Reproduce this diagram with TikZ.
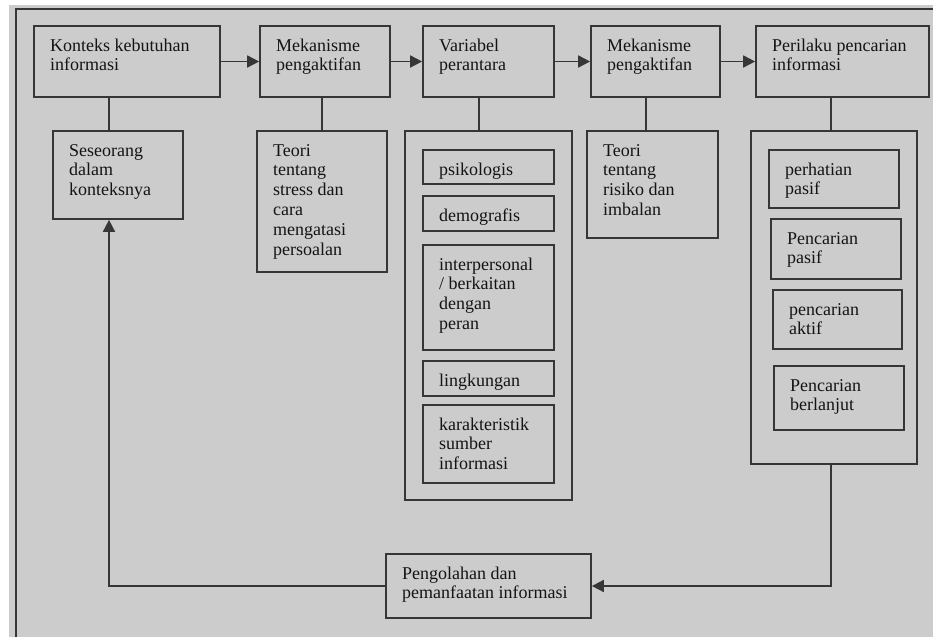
\documentclass[tikz,border=0pt]{standalone}
\usepackage{fontspec}
\setmainfont{Liberation Serif}
\usetikzlibrary{arrows.meta,fit}
\definecolor{bgc}{HTML}{CCCCCC}
\definecolor{lnc}{HTML}{363636}
\definecolor{txc}{HTML}{141414}
\tikzset{
  boxst/.style={draw=lnc, line width=1.7pt, inner sep=0pt},
  txtst/.style={text=txc, inner sep=0pt, anchor=base west, font=\fontsize{18}{19.8}\selectfont},
  lnst/.style={draw=lnc, line width=1.7pt},
  arrst/.style={draw=lnc, line width=1.7pt, -{Triangle[length=12pt,width=12pt]}},
}
\newcommand{\mybox}[6]{%
  \node[boxst, fit={(#2,#3) (#4,#5)}] (#1) {};
  \node[txtst] at (#2+16,#3+25) {\parbox[t]{220pt}{\raggedright #6}};
}
\begin{document}
\begin{tikzpicture}[x=1pt,y=-1pt]
\useasboundingbox (0,0) rectangle (933,637);
\fill[white] (0,0) rectangle (933,637);
\fill[bgc] (9,5) rectangle (933,637);
\draw[draw=lnc, line width=2pt] (16,637) -- (16,9) -- (933,9);

% top row
\mybox{k1}{34}{26}{220}{97}{Konteks kebutuhan\\informasi}
\mybox{m1}{260}{26}{390}{97}{Mekanisme\\pengaktifan}
\mybox{vp}{423}{26}{554}{97}{Variabel\\perantara}
\mybox{m2}{591}{26}{720}{97}{Mekanisme\\pengaktifan}
\mybox{pp}{756}{26}{929}{97}{Perilaku pencarian\\informasi}

% second level
\mybox{ss}{53}{131}{183}{219}{Seseorang\\dalam\\konteksnya}
\mybox{ts}{257}{131}{387}{272}{Teori\\tentang\\stress dan\\cara\\mengatasi\\persoalan}
\node[boxst, fit={(405,131) (572,500)}] (vc) {};
\mybox{ps}{423}{150}{554}{184}{psikologis}
\mybox{dm}{423}{196}{554}{231}{demografis}
\mybox{ip}{423}{245}{554}{350}{interpersonal\\/ berkaitan\\dengan\\peran}
\mybox{lk}{423}{361}{554}{396}{lingkungan}
\mybox{ks}{423}{405}{554}{483}{karakteristik\\sumber\\informasi}
\mybox{tr}{587}{131}{718}{238}{Teori\\tentang\\risiko dan\\imbalan}
\node[boxst, fit={(751,131) (917,464)}] (pc) {};
\mybox{ph}{769}{150}{899}{208}{perhatian\\pasif}
\mybox{pa}{771}{219}{901}{279}{Pencarian\\pasif}
\mybox{ak}{773}{290}{902}{349}{pencarian\\aktif}
\mybox{bl}{774}{366}{904}{430}{Pencarian\\berlanjut}

\mybox{pg}{386}{554}{591}{618}{Pengolahan dan\\pemanfaatan informasi}

% connector x positions
\coordinate (c1) at (109,0);
\coordinate (c2) at (322,0);
\coordinate (c3) at (479,0);
\coordinate (c4) at (646,0);
\coordinate (c5) at (831,0);

% arrows top row
\draw[arrst] (k1.east) -- (m1.west);
\draw[arrst] (m1.east) -- (vp.west);
\draw[arrst] (vp.east) -- (m2.west);
\draw[arrst] (m2.east) -- (pp.west);

% vertical links
\draw[lnst] (k1.south -| c1) -- (ss.north -| c1);
\draw[lnst] (m1.south -| c2) -- (ts.north -| c2);
\draw[lnst] (vp.south -| c3) -- (vc.north -| c3);
\draw[lnst] (m2.south -| c4) -- (tr.north -| c4);
\draw[lnst] (pp.south -| c5) -- (pc.north -| c5);

% feedback loop
\draw[arrst] (pc.south -| c5) |- (pg.east);
\draw[arrst] (pg.west) -| (ss.south -| c1);
\end{tikzpicture}
\end{document}
